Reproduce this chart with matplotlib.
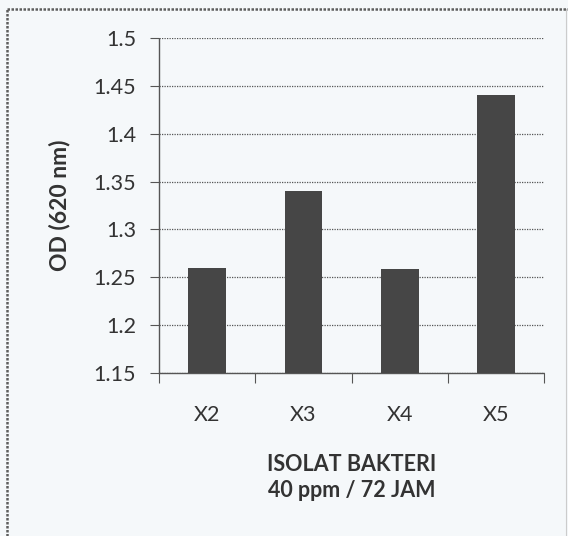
import numpy as np
from matplotlib import pyplot as plt
from matplotlib.lines import Line2D

plt.rcParams["font.family"] = ["Lato", "DejaVu Sans"]

isolat = ["X2", "X3", "X4", "X5"]
od_620 = [1.26, 1.34, 1.259, 1.44]
y_ticks = [1.15, 1.2, 1.25, 1.3, 1.35, 1.4, 1.45, 1.5]

TEXT = "#333333"
GRID = "#555555"

fig = plt.figure(figsize=(5.68, 5.36), dpi=100, facecolor="#f5f8fa")
ax = fig.add_axes([0.280, 0.304, 0.678, 0.625])
ax.set_facecolor("none")

x = np.arange(len(isolat))
ax.bar(x, od_620, width=0.39, bottom=0, color="#464646", zorder=3)

ax.set_xlim(-0.5, len(isolat) - 0.5)
ax.set_ylim(1.15, 1.5)
ax.set_yticks(y_ticks)
ax.set_yticklabels([f"{v:g}" for v in y_ticks])
ax.set_xticks(x)
ax.set_xticklabels(isolat)
ax.set_xticks(np.arange(-0.5, len(isolat)), minor=True)

ax.tick_params(axis="y", length=6.5, width=0.8, color=GRID, labelsize=15.5,
               labelcolor=TEXT, pad=10)
ax.tick_params(axis="x", which="major", length=0, labelsize=15.5,
               labelcolor=TEXT, pad=23)
ax.tick_params(axis="x", which="minor", length=7, width=0.8, color=GRID)

ax.yaxis.grid(True, linestyle=(0, (1, 1)), color=GRID, linewidth=0.9, zorder=1)
for side in ["top", "right"]:
    ax.spines[side].set_visible(False)
for side in ["left", "bottom"]:
    ax.spines[side].set_linestyle((0, (1, 1)))
    ax.spines[side].set_color(GRID)
    ax.spines[side].set_linewidth(1.0)

ax.set_ylabel("OD (620 nm)", fontsize=16.5, fontweight="bold", color=TEXT,
              labelpad=17)
ax.set_xlabel("ISOLAT BAKTERI\n40 ppm / 72 JAM", fontsize=15.5,
              fontweight="bold", color=TEXT, labelpad=21, linespacing=1.3)

# frame around the figure
frame = dict(color="#5e5e5e", linewidth=1.8, linestyle=(0, (1, 0.6)))
fig.add_artist(Line2D([7 / 568, 7 / 568], [0, 1 - 9 / 536], **frame))
fig.add_artist(Line2D([7 / 568, 1], [1 - 9 / 536, 1 - 9 / 536], **frame))
fig.add_artist(Line2D([566 / 568, 566 / 568], [0, 1 - 9 / 536],
                      color="#cccccc", linewidth=0.8))

fig.savefig("out.png", dpi=100, facecolor=fig.get_facecolor())
